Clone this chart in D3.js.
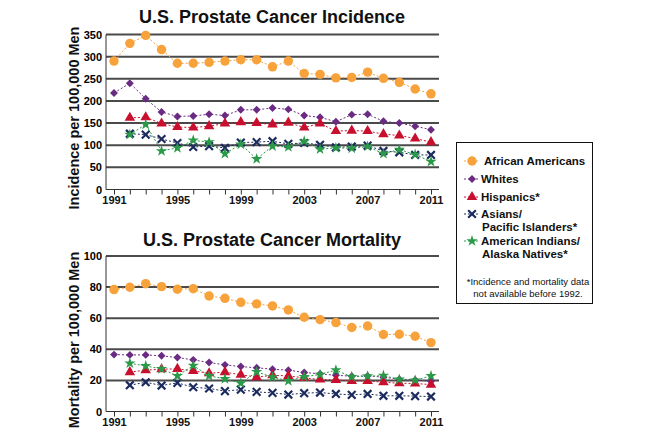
<!DOCTYPE html>
<html><head><meta charset="utf-8">
<script src="https://cdn.jsdelivr.net/npm/d3@7"></script>
<style>body{margin:0;background:#fff;}svg{display:block;font-family:Arial,"Liberation Sans",sans-serif;}</style>
</head><body><svg id="c" width="645" height="439"></svg>
<script>
const years = d3.range(1991, 2012);
const xTickLabels = [1991, 1995, 1999, 2003, 2007, 2011];
const incTicks = [0, 50, 100, 150, 200, 250, 300, 350];
const morTicks = [0, 20, 40, 60, 80, 100];
const seriesNames = ["African Americans", "Whites", "Hispanics*", "Asians/\nPacific Islanders*", "American Indians/\nAlaska Natives*"];
const colors = ["#f7a23b", "#6a2c83", "#c8102e", "#1c2b5e", "#2b9a48"];
const shapes = ["circle", "diamond", "triangle", "x", "star"];
// Incidence (1991..2011); null = not available
const incAfricanAmericans = [290,330,348,316,285,285,287,290,293,293,277,290,262,260,252,253,265,251,242,227,216];
const incWhites = [218,240,205,175,165,166,170,167,180,180,184,181,167,163,153,169,170,154,150,143,135];
const incHispanics = [null,162,163,149,141,140,143,149,152,150,147,151,140,149,132,133,132,125,122,115,107];
const incAsians = [null,126,124,114,105,96,98,94,106,107,109,103,105,101,95,97,99,87,84,78,78];
const incNatives = [null,124,147,87,94,111,107,81,102,69,98,96,109,91,94,93,97,81,90,79,63];
// Mortality (1991..2011)
const morAfricanAmericans = [78.4,79.9,82.2,80.3,78.6,79.0,74.3,72.8,70.2,69.2,67.9,65.3,60.6,59.1,57.2,54.0,55.0,49.5,49.7,48.4,44.3];
const morWhites = [36.6,36.4,36.4,35.8,34.7,33.2,31.5,30.0,28.9,28.1,27.2,26.6,25.1,24.2,23.3,22.7,22.9,22.1,20.8,20.3,19.5];
const morHispanics = [null,25.3,26.6,27.2,27.4,26.1,24.6,25.3,23.6,22.1,23.3,22.9,21.6,20.6,20.3,19.7,19.7,18.8,18.2,18.0,17.3];
const morAsians = [null,16.9,18.8,16.7,18.4,15.6,14.8,13.1,14.1,12.6,12.0,10.9,11.8,12.2,11.3,10.7,11.3,10.1,10.1,9.9,9.6];
const morNatives = [null,31.0,29.3,27.4,22.9,29.6,22.9,21.0,18.2,25.5,22.1,19.7,22.3,23.8,26.6,22.3,22.7,23.1,20.6,20.1,22.9];

const svg = d3.select("#c");

function symbolPath(shape) {
  const m = {
    circle: d3.symbol(d3.symbolCircle, 70),
    diamond: d3.symbol(d3.symbolDiamond2, 40),
    triangle: d3.symbol(d3.symbolTriangle, 48),
    x: d3.symbol(d3.symbolTimes, 40),
    star: d3.symbol(d3.symbolStar, 40)
  };
  return m[shape]();
}

function drawChart(cfg) {
  const x = d3.scaleLinear().domain([1991, 2011]).range([114, 431]);
  const y = d3.scaleLinear().domain([0, cfg.max]).range([cfg.y0, cfg.y1]);
  const g = svg.append("g");
  g.append("g").selectAll("line").data(cfg.ticks.filter(d => d > 0)).join("line")
    .attr("x1", 106).attr("x2", 439).attr("y1", d => y(d)).attr("y2", d => y(d))
    .attr("stroke", "#4a4a4a").attr("stroke-width", 2);
  g.append("line").attr("x1", 106).attr("x2", 106).attr("y1", y(cfg.max)).attr("y2", y(0))
    .attr("stroke", "#333").attr("stroke-width", 1);
  g.append("g").selectAll("text").data(cfg.ticks).join("text")
    .attr("x", 102).attr("y", d => y(d) + 4).attr("text-anchor", "end")
    .attr("font-size", 11).attr("font-weight", "bold").text(d => d);
  const xa = g.append("g").attr("transform", `translate(0,${y(0)})`)
    .call(d3.axisBottom(x).tickValues(years).tickSize(5).tickFormat(d => xTickLabels.includes(d) ? d : ""));
  xa.select(".domain").attr("stroke", "#333").attr("d", `M106,0H439`);
  xa.selectAll(".tick line").attr("stroke", "#333");
  xa.selectAll("text").attr("font-size", 11).attr("font-weight", "bold").attr("font-family", "Arial, Liberation Sans, sans-serif").attr("fill", "#111").attr("dy", "0.55em");
  g.append("text").attr("x", 272).attr("y", cfg.titleY).attr("text-anchor", "middle")
    .attr("font-size", 18).attr("font-weight", "bold").attr("fill", "#111").text(cfg.title);
  g.append("text").attr("transform", `translate(79,${cfg.ytitleCy}) rotate(-90)`).attr("text-anchor", "middle")
    .attr("font-size", 14.5).attr("font-weight", "bold").attr("fill", "#111").text(cfg.ytitle);
  const line = d3.line().defined(d => d.v != null).x(d => x(d.yr)).y(d => y(d.v));
  cfg.series.forEach((vals, i) => {
    const pts = vals.map((v, k) => ({ yr: years[k], v }));
    g.append("path").datum(pts).attr("d", line).attr("fill", "none")
      .attr("stroke", colors[i]).attr("stroke-width", 1).attr("stroke-dasharray", "2,2");
    g.append("g").selectAll("path").data(pts.filter(d => d.v != null)).join("path")
      .attr("transform", d => `translate(${x(d.yr)},${y(d.v)})`)
      .attr("d", symbolPath(shapes[i]))
      .attr("fill", shapes[i] === "x" ? "none" : colors[i])
      .attr("stroke", shapes[i] === "x" ? colors[i] : "none")
      .attr("stroke-width", shapes[i] === "x" ? 2.2 : 0);
  });
}

drawChart({
  title: "U.S. Prostate Cancer Incidence", titleY: 23, max: 350, ticks: incTicks,
  y0: 189.5, y1: 34.5, ytitle: "Incidence per 100,000 Men", ytitleCy: 118,
  series: [incAfricanAmericans, incWhites, incHispanics, incAsians, incNatives]
});
drawChart({
  title: "U.S. Prostate Cancer Mortality", titleY: 246, max: 100, ticks: morTicks,
  y0: 411.5, y1: 256, ytitle: "Mortality per 100,000 Men", ytitleCy: 340,
  series: [morAfricanAmericans, morWhites, morHispanics, morAsians, morNatives]
});

// legend
const lg = svg.append("g");
lg.append("rect").attr("x", 456.5).attr("y", 142.5).attr("width", 136).attr("height", 161)
  .attr("fill", "#fff").attr("stroke", "#111").attr("stroke-width", 1);
const legY = [161, 179, 197, 214, 241];
seriesNames.forEach((name, i) => {
  const yy = legY[i];
  lg.append("line").attr("x1", 464).attr("x2", 480).attr("y1", yy).attr("y2", yy)
    .attr("stroke", colors[i]).attr("stroke-width", 1).attr("stroke-dasharray", "2,2");
  lg.append("path").attr("transform", `translate(472,${yy})`).attr("d", symbolPath(shapes[i]))
    .attr("fill", shapes[i] === "x" ? "none" : colors[i])
    .attr("stroke", shapes[i] === "x" ? colors[i] : "none").attr("stroke-width", shapes[i] === "x" ? 2.2 : 0);
  const x0 = i === 0 ? 484 : 481;
  const t = lg.append("text").attr("y", yy + 4)
    .attr("font-size", 11.5).attr("font-weight", "bold").attr("fill", "#111");
  name.split("\n").forEach((ln, k) => {
    t.append("tspan").attr("x", k === 0 ? x0 : 482).attr("dy", k === 0 ? 0 : 12.5).text(ln);
  });
});
lg.append("text").attr("x", 528).attr("y", 285).attr("text-anchor", "middle").attr("font-size", 9.5).attr("fill", "#111").text("*Incidence and mortality data");
lg.append("text").attr("x", 528).attr("y", 297).attr("text-anchor", "middle").attr("font-size", 9.5).attr("fill", "#111").text("not available before 1992.");
</script></body></html>
